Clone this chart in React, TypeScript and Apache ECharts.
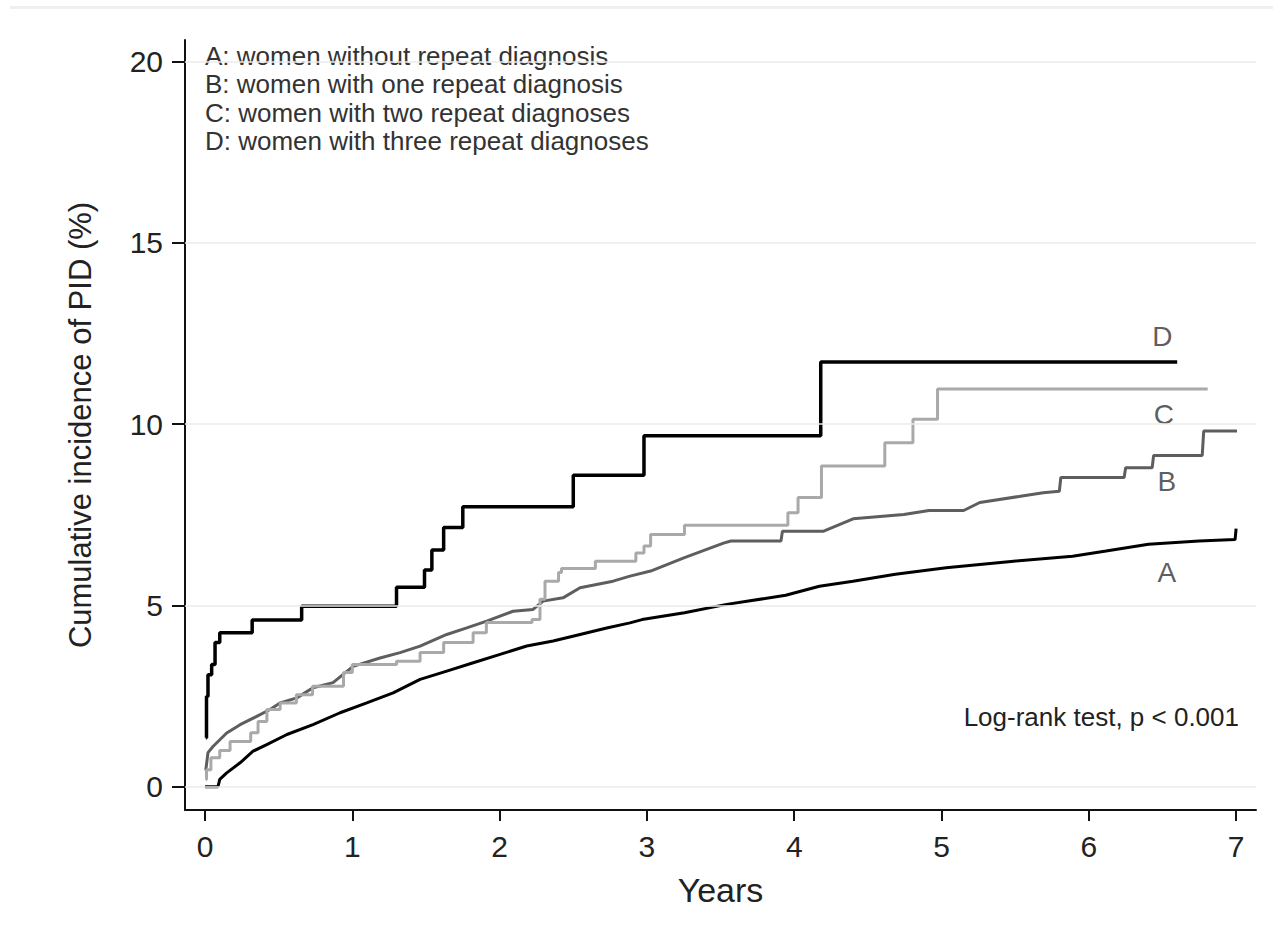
import React, { useEffect, useRef } from "react";
import * as echarts from "echarts";

const xTicks = [0, 1, 2, 3, 4, 5, 6, 7];
const yTicks = [0, 5, 10, 15, 20];

const timesA = [0, 0.088, 0.1, 0.147, 0.238, 0.326, 0.419, 0.556, 0.733, 0.917, 1.098, 1.277, 1.46, 1.641, 1.821, 2.003, 2.184, 2.363, 2.546, 2.727, 2.885, 2.967, 3.255, 3.541, 3.942, 4.171, 4.399, 4.687, 5.031, 5.489, 5.89, 6.117, 6.405, 6.748, 6.993, 7.0];
const pctA = [0, 0, 0.2, 0.38, 0.66, 0.98, 1.16, 1.44, 1.71, 2.04, 2.31, 2.59, 2.96, 3.19, 3.42, 3.65, 3.88, 4.02, 4.2, 4.38, 4.52, 4.61, 4.8, 5.03, 5.28, 5.53, 5.67, 5.86, 6.04, 6.22, 6.36, 6.5, 6.69, 6.78, 6.82, 7.12];

const timesB = [0.005, 0.02, 0.054, 0.147, 0.238, 0.351, 0.441, 0.509, 0.623, 0.733, 0.869, 1.005, 1.188, 1.324, 1.46, 1.641, 1.777, 1.912, 2.091, 2.227, 2.295, 2.43, 2.546, 2.77, 2.885, 3.025, 3.255, 3.52, 3.57, 3.91, 3.92, 4.2, 4.4, 4.744, 4.915, 5.15, 5.26, 5.547, 5.69, 5.8, 5.81, 6.24, 6.25, 6.43, 6.44, 6.77, 6.78, 7.006];
const pctB = [0.45, 0.94, 1.11, 1.48, 1.71, 1.94, 2.13, 2.31, 2.45, 2.73, 2.87, 3.32, 3.55, 3.7, 3.88, 4.2, 4.38, 4.57, 4.84, 4.89, 5.12, 5.21, 5.49, 5.67, 5.81, 5.95, 6.32, 6.72, 6.78, 6.78, 7.05, 7.05, 7.39, 7.51, 7.62, 7.62, 7.84, 8.02, 8.11, 8.15, 8.53, 8.53, 8.8, 8.8, 9.14, 9.14, 9.81, 9.81];

const timesC = [0.005, 0.01, 0.04, 0.1, 0.17, 0.31, 0.36, 0.42, 0.51, 0.62, 0.73, 0.94, 1.0, 1.3, 1.46, 1.62, 1.82, 1.91, 2.22, 2.274, 2.308, 2.4, 2.42, 2.65, 2.925, 2.98, 3.025, 3.255, 3.957, 4.026, 4.185, 4.615, 4.806, 4.973, 6.807];
const pctC = [0.2, 0.47, 0.8, 1.0, 1.25, 1.49, 1.8, 2.13, 2.31, 2.54, 2.77, 3.15, 3.37, 3.46, 3.7, 3.98, 4.25, 4.53, 4.61, 5.17, 5.67, 5.91, 6.02, 6.22, 6.45, 6.64, 6.96, 7.21, 7.56, 7.98, 8.85, 9.49, 10.14, 10.97, 10.97];

const timesD = [0.005, 0.01, 0.02, 0.045, 0.068, 0.1, 0.32, 0.656, 1.3, 1.49, 1.54, 1.62, 1.75, 2.5, 2.98, 4.18, 6.6];
const pctD = [1.35, 2.49, 3.09, 3.37, 3.98, 4.25, 4.6, 4.98, 5.5, 5.98, 6.53, 7.15, 7.72, 8.59, 9.68, 11.72, 11.72];

const curveNames = ["D", "C", "B", "A"];
const curveNameX = [6.5, 6.51, 6.53, 6.53];
const curveNameY = [12.41, 10.26, 8.41, 5.92];

const legendLines = [
  "A: women without repeat diagnosis",
  "B: women with one repeat diagnosis",
  "C: women with two repeat diagnoses",
  "D: women with three repeat diagnoses",
];
const testNote = "Log-rank test, p < 0.001";
const xTitle = "Years";
const yTitle = "Cumulative incidence of PID (%)";

const FONT = '"Liberation Sans", Arial, Helvetica, sans-serif';

const zip = (t: number[], v: number[]) => t.map((x, i) => [x, v[i]]);

export default function App() {
  const ref = useRef<HTMLDivElement>(null);
  useEffect(() => {
    if (!ref.current) return;
    const chart = echarts.init(ref.current, null, { renderer: "svg" });
    const lineBase = {
      type: "line",
      showSymbol: false,
      symbol: "none",
      silent: true,
      z: 3,
    };
    chart.setOption({
      animation: false,
      backgroundColor: "#ffffff",
      textStyle: { fontFamily: FONT },
      grid: { left: 185, top: 40, right: 17, bottom: 121, outerBoundsMode: "none" },
      xAxis: {
        type: "value",
        min: -0.136,
        max: 7.135,
        name: xTitle,
        nameLocation: "middle",
        nameGap: 63,
        nameTextStyle: { fontSize: 34, color: "#222", fontFamily: FONT },
        axisLine: { show: true, onZero: false, lineStyle: { color: "#111", width: 2 } },
        axisTick: { show: true, customValues: xTicks, length: 11, lineStyle: { color: "#111", width: 2 } },
        axisLabel: { customValues: xTicks, fontSize: 30, color: "#222", margin: 21, fontFamily: FONT },
        splitLine: { show: false },
      },
      yAxis: {
        type: "value",
        min: -0.643,
        max: 20.6,
        name: yTitle,
        nameLocation: "middle",
        nameGap: 89,
        nameRotate: 90,
        nameTextStyle: { fontSize: 31, color: "#222", fontFamily: FONT },
        axisLine: { show: true, onZero: false, lineStyle: { color: "#111", width: 2 } },
        axisTick: { show: true, customValues: yTicks, length: 13, lineStyle: { color: "#111", width: 2 } },
        axisLabel: { customValues: yTicks, fontSize: 30, color: "#222", margin: 22, fontFamily: FONT },
        splitLine: { show: false },
      },
      series: [
        {
          type: "line",
          data: [],
          silent: true,
          z: 1,
          markLine: {
            silent: true,
            symbol: "none",
            label: { show: false },
            lineStyle: { color: "#ebebeb", width: 1.5, type: "solid" },
            data: yTicks.map((v) => ({ yAxis: v })),
          },
        },
        { ...lineBase, name: "A", data: zip(timesA, pctA), lineStyle: { color: "#000", width: 3 } },
        { ...lineBase, name: "B", data: zip(timesB, pctB), lineStyle: { color: "#5e5e5e", width: 3 } },
        { ...lineBase, name: "C", step: "end", data: zip(timesC, pctC), lineStyle: { color: "#a9a9a9", width: 3 } },
        { ...lineBase, name: "D", step: "end", data: zip(timesD, pctD), lineStyle: { color: "#000", width: 3.5 } },
        {
          type: "scatter",
          symbolSize: 0,
          silent: true,
          z: 4,
          data: curveNames.map((n, i) => ({ name: n, value: [curveNameX[i], curveNameY[i]] })),
          label: {
            show: true,
            position: "inside",
            formatter: (p: any) => p.name,
            fontSize: 28,
            color: "#333",
            fontFamily: FONT,
          },
        },
      ],
      graphic: [
        { type: "rect", shape: { x: 10, y: 6, width: 1263, height: 3 }, style: { fill: "#efefef" }, silent: true },
        ...legendLines.map((t, i) => ({
          type: "text",
          x: 205,
          y: [56, 84, 112.5, 141][i],
          silent: true,
          style: { text: t, fontSize: 26, fill: "#333", fontFamily: FONT, align: "left", verticalAlign: "middle" },
        })),
        {
          type: "text",
          x: 1239,
          y: 717,
          silent: true,
          style: { text: testNote, fontSize: 26, fill: "#222", fontFamily: FONT, align: "right", verticalAlign: "middle" },
        },
      ],
    });
    return () => chart.dispose();
  }, []);
  return <div ref={ref} style={{ position: "fixed", left: 0, top: 0, width: 1273, height: 931 }} />;
}
